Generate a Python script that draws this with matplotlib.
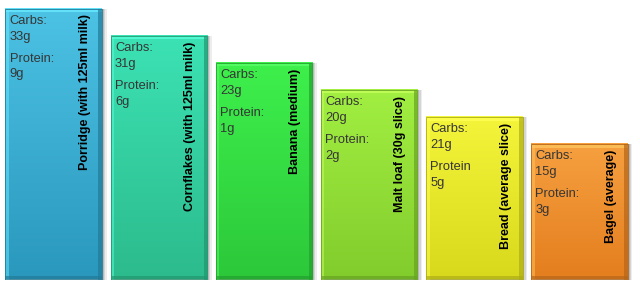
import matplotlib
matplotlib.use("Agg")
import matplotlib.pyplot as plt
import numpy as np
from matplotlib.patches import Rectangle
import matplotlib.colors as mcolors

foods = ["Porridge (with 125ml milk)", "Cornflakes (with 125ml milk)", "Banana (medium)",
         "Malt loaf (30g slice)", "Bread (average slice)", "Bagel (average)"]
carbs = ["33g", "31g", "23g", "20g", "21g", "15g"]
protein = ["9g", "6g", "1g", "2g", "5g", "3g"]
protein_labels = ["Protein:", "Protein:", "Protein:", "Protein:", "Protein", "Protein:"]
rank_height = [20, 18, 16, 14, 12, 10]
top_colors = ["#4cc2e4", "#3ce2b4", "#3ef04c", "#a2ef42", "#f4f43a", "#f6a040"]
bot_colors = ["#2a98bd", "#2cbb8c", "#2cc83a", "#82cc2c", "#d8d81c", "#e47e1e"]

W, H = 640, 291
fig = plt.figure(figsize=(W / 100, H / 100), dpi=100)
fig.patch.set_facecolor("white")
bottom_px = 279.5
ylim_top = 20.55
ax_h = 271 * ylim_top / 20 / H
ax = fig.add_axes([0, (H - bottom_px) / H, 1, ax_h])
spacing_px = 105.1
c0 = 53.8
ax.set_xlim(-c0 / spacing_px, (W - c0) / spacing_px)
ax.set_ylim(0, ylim_top)
ax.axis("off")

width = 0.92
x = np.arange(len(foods))
bars = ax.bar(x, rank_height, width=width, color="none", edgecolor="none", zorder=3)

fontfam = ["Liberation Sans", "DejaVu Sans"]
for i, b in enumerate(bars):
    x0, w = b.get_x(), b.get_width()
    h = b.get_height()
    # shadow
    for k, a in [(0.045, 0.07), (0.03, 0.10), (0.018, 0.13)]:
        ax.add_patch(Rectangle((x0 + k, -k * 0.5), w, h, color="black", alpha=a,
                               lw=0, zorder=1))
    # gradient fill
    c1 = np.array(mcolors.to_rgb(top_colors[i]))
    c2 = np.array(mcolors.to_rgb(bot_colors[i]))
    t = np.linspace(0, 1, 100)[:, None]
    grad = (1 - t) * c1 + t * c2
    img = np.repeat(grad[:, None, :], 2, axis=1)
    ax.imshow(img, extent=(x0, x0 + w, 0, h), aspect="auto", zorder=2,
              interpolation="bilinear")
    # bevel edges
    dark = c2 * 0.8
    light = np.clip(c1 * 1.1 + 0.08, 0, 1)
    ex = 0.035
    ey = ex * 105.1 / (271 / 20)
    ax.add_patch(Rectangle((x0, h - ey), w, ey, color=light, lw=0, zorder=2.5, alpha=0.8))
    ax.add_patch(Rectangle((x0, 0), ex, h, color=light, lw=0, zorder=2.5, alpha=0.5))
    ax.add_patch(Rectangle((x0 + w - ex, 0), ex, h, color=dark, lw=0, zorder=2.5, alpha=0.7))
    ax.add_patch(Rectangle((x0, 0), w, ey, color=dark, lw=0, zorder=2.5, alpha=0.7))
    ax.add_patch(Rectangle((x0, 0), w, h, fill=False, edgecolor=dark, lw=0.6, zorder=2.6))

    # texts
    tx = x0 + 0.042
    top = h
    dy = 1 / (271 / 20)  # one pixel in data units
    lines = [("Carbs:", 12), (carbs[i], 28), (protein_labels[i], 50), (protein[i], 66)]
    for s, off in lines:
        ax.text(tx, top - off * dy, s, ha="left", va="center", fontsize=9.3,
                color="#363636", family=fontfam, zorder=4)
    ax.text(x0 + w - 17 / 105.1, top - 6 * dy, foods[i], rotation=90, ha="center",
            va="top", fontsize=9, fontweight="bold", color="black", family=fontfam,
            zorder=4)

fig.savefig("out.png", dpi=100, facecolor="white")
